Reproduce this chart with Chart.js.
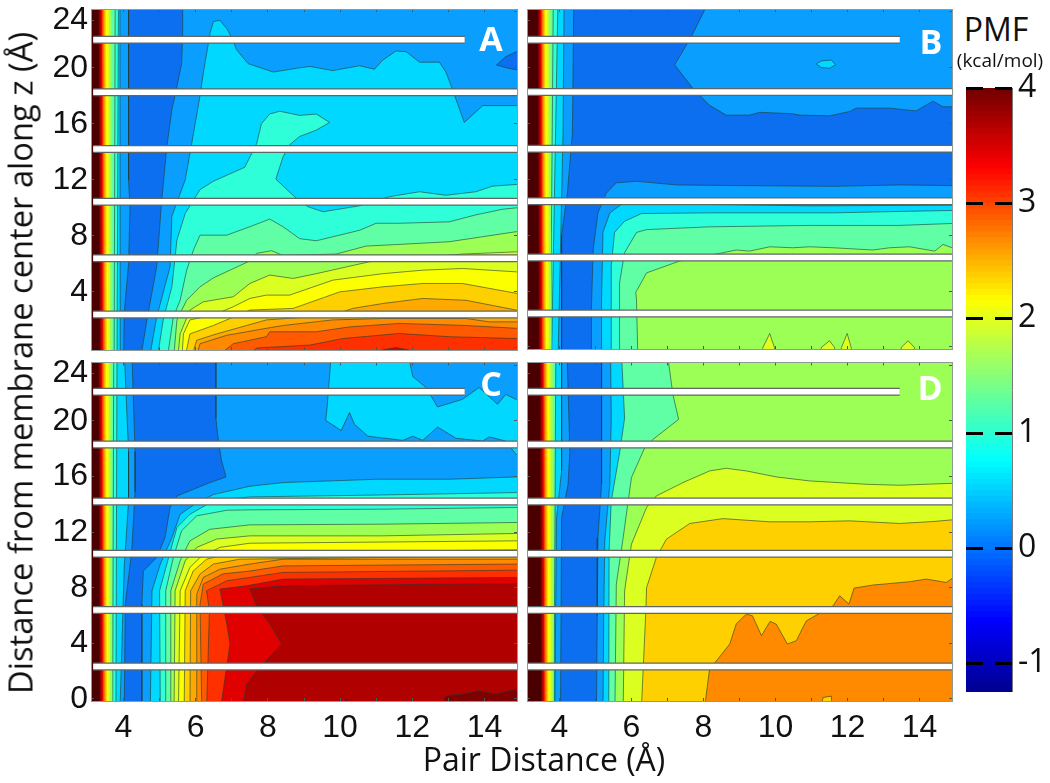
<!DOCTYPE html>
<html>
<head>
<meta charset="utf-8">
<title>PMF</title>
<script src="https://cdn.jsdelivr.net/npm/chart.js@4/dist/chart.umd.js"></script>
<style>
  html, body { margin: 0; background: #fff; }
  #page { position: relative; width: 1050px; height: 783px; overflow: hidden; }
  canvas { position: absolute; }
  .txt { position: absolute; font-family: "Open Sans", sans-serif; color: #111; white-space: nowrap; transform: translate(-50%, -50%); }
  .letter { font-weight: 700; font-size: 34px; color: #fff; }
</style>
</head>
<body>
<div id="page">
  <canvas id="panel-a" width="478" height="352" style="left:41px;top:0"></canvas>
  <canvas id="panel-b" width="430" height="352" style="left:524px;top:0"></canvas>
  <canvas id="panel-c" width="478" height="390" style="left:41px;top:355px"></canvas>
  <canvas id="panel-d" width="430" height="390" style="left:524px;top:355px"></canvas>
  <canvas id="colorbar" width="84" height="622" style="left:966px;top:70px"></canvas>
  <div class="txt letter" style="left:491px;top:38px">A</div>
  <div class="txt letter" style="left:931px;top:41px">B</div>
  <div class="txt letter" style="left:491px;top:383px">C</div>
  <div class="txt letter" style="left:930px;top:387px">D</div>
  <div class="txt" style="left:996px;top:28px;font-size:32px">PMF</div>
  <div class="txt" style="left:1000px;top:60px;font-size:19px">(kcal/mol)</div>
  <div class="txt" style="left:544px;top:758px;font-size:32px">Pair Distance (Å)</div>
  <div class="txt" style="left:20px;top:363px;font-size:32.7px;transform:translate(-50%,-50%) rotate(-90deg)">Distance from membrane center along z (Å)</div>
</div>
<script>
// contour band colours, index = level
const levelColors = ['#0b6ff0', '#0a9eff', '#00d8ff', '#2effd9', '#60ffa6', '#9cff56', '#dcff22', '#fcff00', '#ffd000',
  '#ffa800', '#ff8a00', '#ff5a00', '#ff3000', '#e00000', '#b00000', '#7f0000', '#4a0000'];

// right edge of the steep wall at small pair distance, levels 5 to 16
const wallEdges = [3.66, 3.6, 3.55, 3.51, 3.48, 3.46, 3.44, 3.42, 3.4, 3.37, 3.34, 3.31];

// [level, [x, z, x, z, ...]], painted in this order
const contoursA = [
  [1, [4.46,-1, 4.65,2, 4.92,5.8, 5.06,10.55, 5.2,14.36, 5.34,17, 5.48,18.65, 5.61,20.3, 5.64,22.5, 5.64,25, 15.2,25, 15.2,-1]],
  [0, [15.2,21.2, 14.88,21.15, 14.59,20.8, 14.33,20.2, 14.68,19.96, 15.2,19.7]],
  [2, [4.7,-1, 4.92,2.2, 5.29,5.8, 5.34,9.4, 5.71,12, 5.89,14.6, 6.1,17.7, 6.21,19.6, 6.4,22.5, 6.49,23.3, 6.67,23.4, 6.86,22.8, 6.99,22.2, 7.13,21.3, 7.45,20.3, 8.15,19.7, 8.88,20, 9.16,20.1, 9.8,19.8, 10.54,20.15, 10.95,19.9, 11.18,20.55, 11.55,21.2, 11.83,21.15, 12.2,20.4, 12.75,20.4, 12.93,19.7, 13.12,18.4, 13.44,16.1, 13.95,17.3, 14.88,17.3, 15.2,17.3, 15.2,-1]],
  [3, [4.92,-1, 5.1,2, 5.34,4.36, 5.48,7.7, 5.71,9.6, 6.12,11.3, 6.49,11.9, 7.36,12.9, 7.69,14.6, 7.82,16, 8.05,16.7, 8.33,16.9, 8.88,16.6, 9.34,16.7, 9.71,16.1, 9.34,15.55, 8.88,15.1, 8.6,14.5, 8.42,13.65, 8.22,12.05, 8.79,10.67, 9.11,10.08, 9.53,9.72, 10.54,10.15, 11.37,10.8, 12.2,11.15, 12.93,10.9, 13.76,11.15, 14.22,11.55, 14.88,11.67, 15.2,11.7, 15.2,-1]],
  [4, [5.2,-1, 5.38,2.2, 5.57,3.4, 5.75,5.55, 5.94,7, 6.12,8.05, 6.86,8.05, 7.5,8.65, 8.05,9.2, 8.42,8.65, 8.88,7.8, 9.34,7.65, 10.54,8.4, 11,8.9, 11.64,8.9, 13.02,9, 13.76,9.5, 14.5,9.9, 14.88,10, 15.2,10.1, 15.2,-1]],
  [5, [5.38,-1, 5.48,2, 5.75,3.4, 6.12,4.36, 6.49,5, 7.45,6.15, 7.69,6.75, 8.1,6.94, 8.42,6.6, 9.89,6.7, 10.72,7.27, 11.64,7.39, 13.02,7.58, 13.95,7.94, 14.88,8.3, 15.2,8.4, 15.2,-1]],
  [6, [5.49,-1, 5.57,1, 5.84,2.7, 6.21,3.29, 7.04,3.65, 7.5,4.6, 8.05,5.2, 8.7,4.96, 9.34,5.3, 10.81,6.15, 13.39,6.7, 14.88,6.86, 15.2,6.9, 15.2,-1]],
  [7, [5.61,-1, 5.66,1, 5.84,2, 6.49,2.34, 7.04,2.94, 7.5,3.53, 7.96,3.77, 8.6,3.77, 9.8,4.84, 11.18,5.3, 12.29,5.55, 13.39,5.67, 14.88,5.43, 15.2,5.4, 15.2,-1]],
  [8, [5.68,-1, 5.84,1, 6.49,1.6, 7.5,2.7, 8.7,2.82, 9.99,4, 11.18,4.36, 12.29,4.6, 13.39,4.6, 14.88,3.9, 15.2,3.8, 15.2,-1]],
  [9, [5.84,-1, 6.03,.55, 6.58,1, 7.96,2, 9.8,2.34, 10.35,2.82, 11.18,3.17, 12.29,3.53, 13.49,3.4, 14.88,2.7, 15.2,2.6, 15.2,-1]],
  [10, [5.98,-1, 6.12,.3, 6.86,.9, 7.96,1.4, 8.42,1.6, 9.8,2, 11.18,2.1, 13.49,2.1, 14.13,1.86, 14.88,1.86, 15.2,1.86, 15.2,-1]],
  [11, [6.4,-1, 7.04,.3, 7.96,.8, 8.05,1.15, 9.34,1.15, 10.26,1.5, 11.64,1.75, 13.49,1.6, 14.88,1.4, 15.2,1.4, 15.2,-1]],
  [12, [7.2,-1, 7.7,0, 9.16,.2, 10.08,.67, 11.64,1.03, 13.02,.8, 14.88,.67, 15.2,.65, 15.2,-1]],
  [13, [11.1,-1, 11.14,-.16, 11.55,.03, 11.92,-.16, 12,-1]],
];
const contoursB = [
  [1, [8.2,25, 7.66,22.2, 7.2,20.2, 7.71,18.5, 8.17,17.3, 8.63,16.6, 9.28,16.6, 9.56,16.8, 10.48,16.7, 10.67,16.6, 11.5,16.55, 12.06,16.86, 12.24,17.1, 13.17,17.1, 13.9,16.9, 14.37,17.6, 14.65,17.2, 14.9,17.2, 15.2,17.2, 15.2,25]],
  [2, [11.13,20.27, 11.27,20.48, 11.55,20.55, 11.67,20.2, 11.5,19.96, 11.27,20.01]],
  [1, [4.89,-1, 4.89,2.9, 4.94,7, 5.07,9.6, 5.3,11, 5.58,11.75, 6.14,11.86, 7.25,11.6, 9.1,11.55, 11.6,11.5, 13.44,11.6, 14.9,11.55, 15.2,11.55, 15.2,-1]],
  [2, [5.17,-1, 5.17,3.4, 5.21,8.2, 5.4,9.6, 5.72,10.2, 6.32,10.27, 10.95,10.1, 14.9,10.15, 15.2,10.15, 15.2,-1]],
  [3, [5.44,-1, 5.44,5.8, 5.53,8.2, 5.81,9, 6.28,9.55, 8.17,9.6, 11.6,9.6, 13.44,9.7, 14.9,9.77, 15.2,9.8, 15.2,-1]],
  [4, [5.67,-1, 5.67,4.6, 5.81,6.75, 6.14,8.2, 6.42,8.4, 8.17,8.6, 10.95,8.7, 13.44,8.7, 14.9,8.84, 15.2,8.85, 15.2,-1]],
  [5, [6.18,-1, 6.14,3.4, 6.12,3.9, 6.42,5.3, 7.34,6.15, 8.45,6.7, 8.91,6.94, 9.28,6.86, 9.84,7.17, 10.48,7.1, 10.95,7.17, 11.6,7.1, 12.7,6.94, 13.17,7.1, 13.72,7.17, 14.42,6.86, 14.65,7.34, 14.9,7.1, 15.2,7.1, 15.2,-1]],
  [6, [9.6,-1, 9.65,-.04, 9.84,.96, 9.97,-.04, 10,-1]],
  [6, [11.25,-1, 11.27,-.04, 11.5,.44, 11.64,-.04, 11.66,-1]],
  [6, [11.8,-1, 11.83,-.04, 11.99,.96, 12.1,-.04, 12.13,-1]],
  [6, [13.47,-1, 13.49,-.04, 13.68,.44, 13.86,-.04, 13.88,-1]],
];
const contoursC = [
  [1, [6.56,25, 6.56,20.2, 6.63,18.55, 6.72,17.1, 6.84,15.97, 6.4,15.56, 5.48,14.6, 5.29,13.77, 5.15,11.6, 4.92,10.17, 4.55,9.2, 4.51,6.8, 4.51,-1, 15.2,-1, 15.2,25]],
  [2, [4.74,-1, 4.79,7.78, 5.02,9.7, 5.34,11.6, 5.57,13.28, 6.03,14.1, 6.49,14.7, 7.5,15.3, 8.42,15.56, 11,15.8, 13.02,15.8, 14.87,15.97, 15.2,16, 15.2,-1]],
  [2, [9.76,25, 9.64,20.95, 9.6,20.04, 10.03,19.3, 10.26,20.6, 10.4,19.75, 10.77,18.9, 11.74,18.6, 12.01,18.9, 12.29,18.6, 12.7,19.56, 13.21,18.75, 13.95,18.55, 14.13,18.85, 14.59,18.55, 14.87,17.6, 15.2,17, 15.2,21.7, 14.87,21.55, 14.59,21.9, 14.36,21.2, 13.85,22.4, 13.39,21.55, 12.7,21, 12.38,22.4, 12.01,23.2, 11.94,24.1, 11.94,25]],
  [3, [5.02,-1, 5,7.78, 5.25,10.17, 5.48,12.33, 5.84,13.28, 6.49,14.25, 7.5,14.53, 11.18,14.67, 14.87,14.84, 15.2,14.85, 15.2,-1]],
  [4, [5.17,-1, 5.17,7.78, 5.38,10.17, 5.61,12.1, 6.03,13.17, 6.86,13.57, 7.5,13.6, 11.18,13.65, 14.87,13.77, 15.2,13.8, 15.2,-1]],
  [5, [5.29,-1, 5.31,7.78, 5.57,9.94, 5.84,11.37, 6.39,12.2, 7.5,12.52, 11.18,12.57, 14.87,12.69, 15.2,12.7, 15.2,-1]],
  [6, [5.4,-1, 5.43,7.78, 5.71,9.94, 6.03,10.9, 6.58,11.5, 7.5,11.73, 11.18,11.73, 14.87,11.9, 15.2,11.9, 15.2,-1]],
  [7, [5.52,-1, 5.57,7.78, 5.84,9.46, 6.12,10.17, 6.67,10.9, 7.5,11.2, 14.87,11.37, 15.2,11.4, 15.2,-1]],
  [8, [5.68,-1, 5.71,7.78, 5.93,9.2, 6.3,10.05, 7.04,10.53, 14.87,10.72, 15.2,10.72, 15.2,-1]],
  [9, [5.84,-1, 5.86,7.78, 6.12,8.98, 6.49,9.7, 7.22,10.05, 14.87,10.3, 15.2,10.3, 15.2,-1]],
  [10, [6.03,-1, 6.03,7.54, 6.21,8.74, 6.67,9.33, 7.5,9.7, 8.42,10.05, 14.87,10.05, 15.2,10.05, 15.2,-1]],
  [11, [6.17,-1, 6.12,6.8, 6.21,8.26, 6.76,9, 7.5,9.2, 8.42,9.57, 14.87,9.7, 15.2,9.7, 15.2,-1]],
  [12, [6.3,-1, 6.38,6.34, 6.3,7.78, 6.86,8.5, 7.5,8.74, 8.42,9.1, 14.87,9.26, 15.2,9.26, 15.2,-1]],
  [13, [6.67,-1, 6.95,3.95, 6.86,5.4, 6.67,7.9, 7.41,8.14, 8.42,8.62, 14.87,8.74, 15.2,8.74, 15.2,-1]],
  [14, [7.27,-1, 7.41,1.07, 7.78,2.27, 8.38,3.95, 8.05,5.4, 7.69,6.7, 7.5,7.9, 8.42,8.14, 14.87,8.3, 15.2,8.3, 15.2,-1]],
  [15, [9.91,-1, 10.17,0, 10.4,-1]],
  [15, [12.7,-1, 12.93,.23, 13.39,.35, 13.85,.6, 14.31,.35, 14.87,.7, 15.2,.7, 15.2,-1]],
];
const contoursD = [
  [1, [5.17,25, 5.17,15.44, 5.07,11.6, 5.05,6, 5.03,-1, 15.2,-1, 15.2,25]],
  [2, [5.42,25, 5.44,20.2, 5.4,15.44, 5.26,11.37, 5.23,5.86, 5.21,-1, 15.2,-1, 15.2,25]],
  [4, [5.72,25, 5.81,20.2, 5.68,17.84, 5.44,14.24, 5.38,10.65, 5.37,-1, 15.2,-1, 15.2,25]],
  [5, [5.54,-1, 5.58,8.26, 5.77,11.6, 6,15.92, 6.37,18.08, 6.6,18.67, 7.31,20.11, 7.15,21.9, 6.99,25, 15.2,25, 15.2,-1]],
  [6, [5.77,-1, 5.81,7.78, 6,11.13, 6.42,13.77, 6.69,14.6, 7.43,15.56, 8.17,16.4, 8.63,16.59, 9.19,16.4, 10.02,15.97, 10.95,15.68, 12.52,15.44, 13.44,15.37, 14.9,15.51, 15.2,15.5, 15.2,-1]],
  [8, [6.27,-1, 6.4,6.34, 6.42,8, 6.69,10.17, 6.97,11.49, 7.62,12.62, 8.54,12.97, 9.84,12.74, 10.95,12.74, 12.06,12.81, 13.44,12.62, 14.37,12.76, 14.9,12.88, 15.2,13, 15.2,-1]],
  [10, [8.01,-1, 8.17,2.15, 8.4,2.87, 8.73,3.95, 8.91,5.4, 9.19,6.1, 9.36,5.98, 9.61,4.55, 9.85,5.58, 10.02,5.38, 10.33,3.95, 10.58,4.19, 10.76,5.14, 10.86,5.62, 11.27,6.22, 11.6,6.7, 11.78,7.42, 12.04,6.82, 12.18,7.97, 12.7,8.19, 13.72,8.43, 14.18,8.62, 14.74,8.38, 14.9,8.66, 15.2,9, 15.2,-1]],
  [8, [11.22,-1, 11.32,.1, 11.55,.2, 11.58,-1]],
];

// low level edges of the wall, top of the panel to the bottom
const wallA = [[1, [4.14,25, 4.14,12, 4.18,10, 4.14,6, 4.02,2.5, 4,-1]], [2, [3.9,25, 3.91,-1]], [3, [3.86,25, 3.82,-1]], [4, [3.77,25, 3.74,-1]]];
const wallB = [[1, [4.4,25, 4.36,15.3, 4.22,11, 4.06,8, 4.06,-1]], [2, [4.13,25, 4.1,15.3, 3.96,-1]], [3, [3.96,25, 3.78,-1]], [4, [3.83,25, 3.75,-1]]];
const wallC = [[1, [4.23,25, 4.32,17.8, 4.32,14.9, 4.28,13, 4.23,10.7, 4.05,6.8, 4.02,-1]], [2, [4.02,25, 4.14,17.8, 4.14,14.2, 4.02,9.5, 3.9,-1]], [3, [3.82,25, 3.79,-1]], [4, [3.73,25, 3.7,-1]]];
const wallD = [[1, [4.21,25, 4.29,17.8, 4.24,15.44, 4.06,13, 4.03,-1]], [2, [4.06,25, 4.06,16.4, 3.92,13, 3.87,-1]], [4, [3.9,25, 3.85,-1]]];
const wallShifts = [0, 0.09, 0, 0.15];

// white gaps between the slabs
const gapRowsTop = [22, 18.25, 14.2, 10.43, 6.41, 2.39];
const gapRowsBottom = [22.1, 18.3, 14.2, 10.44, 6.39, 2.34];
const gapEnds = [13.45, 14.93, 14.93, 14.93, 14.93, 14.93];
const gapStarts = [3.16, 3.1, 3.16, 3.1];

const xTickLabels = ['4', '6', '8', '10', '12', '14'];
const yTickSpots = [0, 4, 8, 12, 16, 20, 23.4];
const yTickLabels = ['0', '4', '8', '12', '16', '20', '24'];

// colour bar
const barLevels = [-1.25, -1.2, -1.15, -1.1, -1.05, -1, -.95, -.9, -.85, -.8, -.75, -.7, -.65, -.6, -.55, -.5, -.45, -.4, -.35, -.3, -.25, -.2, -.15, -.1, -.05, 0,
  .05, .1, .15, .2, .25, .3, .35, .4, .45, .5, .55, .6, .65, .7, .75, .8, .85, .9, .95, 1, 1.05, 1.1, 1.15, 1.2, 1.25, 1.3, 1.35, 1.4, 1.45, 1.5, 1.55, 1.6, 1.65, 1.7, 1.75, 1.8, 1.85, 1.9, 1.95, 2,
  2.05, 2.1, 2.15, 2.2, 2.25, 2.3, 2.35, 2.4, 2.45, 2.5, 2.55, 2.6, 2.65, 2.7, 2.75, 2.8, 2.85, 2.9, 2.95, 3, 3.05, 3.1, 3.15, 3.2, 3.25, 3.3, 3.35, 3.4, 3.45, 3.5, 3.55, 3.6, 3.65, 3.7, 3.75, 3.8, 3.85, 3.9, 3.95, 4];
const barStops = [[-1.25, [0, 0, 143]], [-.63, [0, 0, 255]], [.76, [0, 255, 255]], [2.15, [255, 255, 0]], [3.3, [255, 0, 0]], [4, [112, 0, 0]]];
const barTicks = ['-1', '0', '1', '2', '3', '4'];

const tickFont = { family: '"Liberation Sans", Arial, sans-serif', size: 32 };

function toPoints(flat) {
  const pts = [];
  for (let i = 0; i < flat.length; i += 2) {
    pts.push({ x: flat[i], y: flat[i + 1] });
  }
  pts.push(pts[0]);
  return pts;
}

function bandDataset(level, flat, lineWidth) {
  return {
    data: toPoints(flat),
    showLine: true,
    fill: 'shape',
    backgroundColor: levelColors[level],
    borderColor: 'rgba(35,60,50,0.6)',
    borderWidth: lineWidth,
    pointRadius: 0,
    tension: 0,
  };
}

function gapDataset(start, end, z, color, width) {
  return {
    data: [{ x: start, y: z }, { x: end, y: z }],
    showLine: true,
    fill: false,
    borderColor: color,
    borderWidth: width,
    borderCapStyle: 'butt',
    pointRadius: 0,
    clip: false,
  };
}

function buildDatasets(contours, wall, panelIdx, gapRows) {
  const list = [bandDataset(0, [2, -1, 16, -1, 16, 26, 2, 26], 0)];
  contours.forEach(([level, flat]) => list.push(bandDataset(level, flat, 1)));
  wall.forEach(([level, flat]) => list.push(bandDataset(level, [2.8, -1, 2.8, 25, ...flat], 1)));
  wallEdges.forEach((edge, i) => {
    const x = edge + wallShifts[panelIdx];
    list.push(bandDataset(i + 5, [2.8, -1, 2.8, 25, x, 25, x + 0.03, -1], 0));
  });
  gapRows.forEach((z, i) => {
    list.push(gapDataset(gapStarts[panelIdx], gapEnds[i], z, '#5f6663', 8));
    list.push(gapDataset(gapStarts[panelIdx], gapEnds[i], z, '#ffffff', 5.5));
  });
  // chart.js paints the highest order first
  list.forEach((ds, i) => { ds.order = list.length - i; });
  return list;
}

const edgeLine = { display: true, color: '#8f9a98', width: 1, z: 1 };
const tickLine = { drawOnChartArea: false, drawTicks: true, tickLength: -3, tickColor: '#4f5a58', z: 1 };

// tick labels hanging past the plot must not shrink it
function noOverhang(s) {
  s.paddingTop = 0;
  s.paddingBottom = 0;
  s.paddingLeft = 0;
  s.paddingRight = 0;
}

function renderPanel(id, datasets, opts) {
  new Chart(document.getElementById(id), {
    type: 'scatter',
    data: { datasets },
    options: {
      responsive: false,
      animation: false,
      events: [],
      layout: { padding: { top: opts.top, right: 2, left: 0, bottom: 0 } },
      plugins: { legend: { display: false }, tooltip: { enabled: false } },
      scales: {
        x: {
          min: 3.1, max: 14.9,
          border: edgeLine, grid: tickLine,
          afterFit: (s) => { s.height = opts.bottom; noOverhang(s); },
          ticks: {
            display: opts.xLabels, stepSize: 1, includeBounds: false, autoSkip: false, maxRotation: 0, padding: 11,
            font: tickFont, color: '#111',
            callback: (v) => (xTickLabels.includes(String(v)) ? String(v) : ''),
          },
        },
        xTop: {
          axis: 'x', position: 'top', min: 3.1, max: 14.9,
          border: edgeLine, grid: tickLine,
          afterFit: (s) => { s.height = 0; noOverhang(s); },
          ticks: { display: false, stepSize: 1, includeBounds: false },
        },
        y: {
          min: -0.15, max: 24.2,
          border: edgeLine, grid: tickLine,
          afterFit: (s) => { s.width = opts.left; noOverhang(s); },
          afterBuildTicks: (s) => { s.ticks = yTickSpots.slice(opts.firstY).map((value) => ({ value })); },
          ticks: {
            display: opts.yLabels, padding: 6, autoSkip: false, font: tickFont, color: '#111',
            callback: (v, i) => yTickLabels[i + opts.firstY],
          },
        },
        yRight: {
          axis: 'y', position: 'right', min: -0.15, max: 24.2,
          border: edgeLine, grid: tickLine,
          afterFit: (s) => { s.width = 0; noOverhang(s); },
          ticks: { display: false, stepSize: 4, includeBounds: false },
        },
      },
    },
  });
}

function barColor(v) {
  for (let i = 1; i < barStops.length; i++) {
    if (v <= barStops[i][0]) {
      const [v0, c0] = barStops[i - 1];
      const [v1, c1] = barStops[i];
      const t = Math.max(0, (v - v0) / (v1 - v0));
      return 'rgb(' + c0.map((c, k) => Math.round(c + (c1[k] - c) * t)).join(',') + ')';
    }
  }
  return 'rgb(112,0,0)';
}

function renderColorbar() {
  // each stripe reaches a little under its lower edge so no white seam shows
  const stripes = barLevels.slice(0, -1).map((lo, i) => [lo - 0.03, barLevels[i + 1]]);
  new Chart(document.getElementById('colorbar'), {
    type: 'bar',
    data: {
      labels: ['PMF'],
      datasets: stripes.map((s) => ({
        data: [s],
        backgroundColor: barColor(s[0] + 0.055),
        barPercentage: 1,
        categoryPercentage: 1,
        grouped: false,
      })),
    },
    options: {
      responsive: false,
      animation: false,
      events: [],
      layout: { padding: { top: 18, bottom: 0, left: 0, right: 0 } },
      plugins: { legend: { display: false }, tooltip: { enabled: false } },
      scales: {
        x: { display: false },
        y: {
          position: 'right', min: -1.25, max: 4,
          afterFit: (s) => { s.width = 38; noOverhang(s); },
          afterBuildTicks: (s) => { s.ticks = barTicks.map((t) => ({ value: Number(t) })); },
          border: { display: true, color: '#777', dash: [17, 12], z: 1 },
          grid: { color: '#000', lineWidth: 3, drawTicks: false, z: 1 },
          ticks: { padding: 6, font: { family: '"Open Sans", sans-serif', size: 32 }, color: '#111', autoSkip: false,
            callback: (v) => String(v) },
        },
      },
    },
  });
}

renderPanel('panel-a', buildDatasets(contoursA, wallA, 0, gapRowsTop), { top: 9, bottom: 2, left: 50, xLabels: false, yLabels: true, firstY: 1 });
renderPanel('panel-b', buildDatasets(contoursB, wallB, 1, gapRowsTop), { top: 9, bottom: 3, left: 3, xLabels: false, yLabels: false, firstY: 0 });
renderPanel('panel-c', buildDatasets(contoursC, wallC, 2, gapRowsBottom), { top: 7.5, bottom: 44, left: 50, xLabels: true, yLabels: true, firstY: 0 });
renderPanel('panel-d', buildDatasets(contoursD, wallD, 3, gapRowsBottom), { top: 7.5, bottom: 44, left: 3, xLabels: true, yLabels: false, firstY: 0 });
renderColorbar();
</script>
</body>
</html>
